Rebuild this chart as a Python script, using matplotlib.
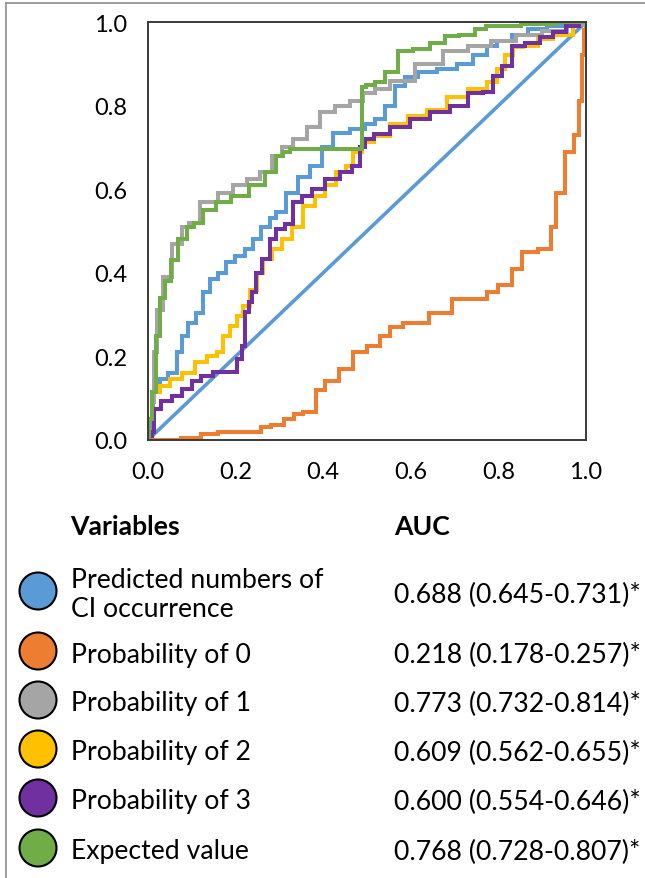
import matplotlib
matplotlib.use("Agg")
import matplotlib.pyplot as plt
from matplotlib.patches import Circle
from matplotlib.lines import Line2D

plt.rcParams['font.family'] = ['Lato', 'DejaVu Sans']

# ROC curves (false positive rate, true positive rate)
pred_fpr = [0, 0.005, 0.02, 0.035, 0.058, 0.073, 0.084, 0.10, 0.119, 0.134, 0.15, 0.17, 0.187, 0.21, 0.233,
            0.248, 0.27, 0.285, 0.30, 0.33, 0.355, 0.386, 0.409, 0.438, 0.484, 0.507, 0.53, 0.553, 0.575,
            0.598, 0.637, 0.683, 0.728, 0.758, 0.788, 0.804, 0.856, 0.88, 0.94, 1.0]
pred_tpr = [0, 0.02, 0.115, 0.146, 0.16, 0.21, 0.25, 0.28, 0.305, 0.354, 0.385, 0.40, 0.426, 0.44, 0.457,
            0.48, 0.51, 0.53, 0.545, 0.59, 0.63, 0.655, 0.70, 0.735, 0.744, 0.756, 0.768, 0.80, 0.847,
            0.868, 0.88, 0.887, 0.90, 0.92, 0.943, 0.955, 0.97, 0.983, 0.99, 1.0]

p0_fpr = [0, 0.05, 0.1, 0.14, 0.18, 0.255, 0.26, 0.30, 0.32, 0.347, 0.363, 0.377, 0.39, 0.42, 0.454, 0.484,
          0.514, 0.545, 0.56, 0.605, 0.68, 0.71, 0.77, 0.78, 0.82, 0.84, 0.87, 0.913, 0.925, 0.94, 0.963,
          0.98, 0.99, 0.993, 0.998, 1.0]
p0_tpr = [0, 0.0, 0.005, 0.014, 0.02, 0.02, 0.03, 0.035, 0.05, 0.062, 0.067, 0.067, 0.12, 0.14, 0.17, 0.21,
          0.225, 0.25, 0.27, 0.28, 0.305, 0.337, 0.337, 0.354, 0.37, 0.41, 0.45, 0.457, 0.51, 0.59, 0.69,
          0.73, 0.81, 0.92, 0.98, 1.0]

p1_fpr = [0, 0.005, 0.011, 0.015, 0.027, 0.043, 0.066, 0.089, 0.096, 0.14, 0.18, 0.21, 0.24, 0.27, 0.295,
          0.317, 0.347, 0.377, 0.409, 0.445, 0.477, 0.507, 0.53, 0.575, 0.644, 0.705, 0.758, 0.81, 0.872,
          0.925, 0.986, 1.0]
p1_tpr = [0, 0.05, 0.09, 0.21, 0.31, 0.39, 0.47, 0.51, 0.52, 0.57, 0.59, 0.61, 0.624, 0.64, 0.68,
          0.70, 0.72, 0.75, 0.785, 0.80, 0.81, 0.83, 0.84, 0.86, 0.90, 0.93, 0.943, 0.955, 0.97,
          0.978, 0.995, 1.0]

p2_fpr = [0, 0.005, 0.011, 0.043, 0.058, 0.096, 0.12, 0.149, 0.164, 0.18, 0.195, 0.21, 0.226, 0.24, 0.256,
          0.27, 0.295, 0.317, 0.34, 0.37, 0.393, 0.415, 0.445, 0.46, 0.477, 0.50, 0.53, 0.575, 0.614, 0.66,
          0.705, 0.758, 0.788, 0.804, 0.826, 0.842, 0.872, 0.91, 0.94, 1.0]
p2_tpr = [0, 0.05, 0.115, 0.13, 0.146, 0.16, 0.186, 0.20, 0.21, 0.25, 0.273, 0.297, 0.32, 0.36, 0.40,
          0.433, 0.457, 0.48, 0.51, 0.56, 0.584, 0.61, 0.64, 0.655, 0.69, 0.713, 0.727, 0.756, 0.776, 0.79,
          0.82, 0.84, 0.856, 0.887, 0.92, 0.94, 0.943, 0.96, 0.97, 1.0]

p3_fpr = [0, 0.005, 0.011, 0.015, 0.043, 0.066, 0.089, 0.11, 0.134, 0.164, 0.195, 0.21, 0.217, 0.226, 0.233,
          0.24, 0.251, 0.27, 0.285, 0.30, 0.324, 0.34, 0.363, 0.386, 0.423, 0.454, 0.477, 0.489, 0.50, 0.53,
          0.575, 0.62, 0.667, 0.712, 0.75, 0.78, 0.797, 0.82, 0.842, 0.88, 0.91, 0.94, 0.97, 1.0]
p3_tpr = [0, 0.01, 0.02, 0.074, 0.093, 0.105, 0.122, 0.14, 0.153, 0.163, 0.163, 0.194, 0.225, 0.306, 0.33,
          0.354, 0.40, 0.433, 0.48, 0.505, 0.517, 0.57, 0.584, 0.60, 0.624, 0.64, 0.655, 0.70, 0.72, 0.732,
          0.749, 0.768, 0.785, 0.80, 0.83, 0.832, 0.87, 0.895, 0.943, 0.95, 0.963, 0.976, 0.99, 1.0]

ev_fpr = [0, 0.005, 0.011, 0.024, 0.031, 0.047, 0.058, 0.08, 0.10, 0.11, 0.14, 0.17, 0.21, 0.25, 0.285,
          0.30, 0.317, 0.33, 0.489, 0.49, 0.507, 0.53, 0.553, 0.59, 0.62, 0.667, 0.69, 0.728, 0.765, 0.78,
          0.925, 0.94, 1.0]
ev_tpr = [0, 0.05, 0.115, 0.25, 0.34, 0.38, 0.43, 0.48, 0.51, 0.52, 0.55, 0.57, 0.584, 0.61, 0.64,
          0.68, 0.69, 0.696, 0.696, 0.845, 0.85, 0.856, 0.88, 0.93, 0.935, 0.95, 0.967, 0.97, 0.983, 0.99,
          0.995, 1.0, 1.0]

ref_line = [0, 1]

variables = ["Predicted numbers of\nCI occurrence", "Probability of 0", "Probability of 1",
             "Probability of 2", "Probability of 3", "Expected value"]
auc_text = ["0.688 (0.645-0.731)*", "0.218 (0.178-0.257)*", "0.773 (0.732-0.814)*",
            "0.609 (0.562-0.655)*", "0.600 (0.554-0.646)*", "0.768 (0.728-0.807)*"]
colors = ["#5B9BD5", "#ED7D31", "#A5A5A5", "#FFC000", "#7030A0", "#70AD47"]
ticks = [0.0, 0.2, 0.4, 0.6, 0.8, 1.0]

W, H = 645, 879
fig = plt.figure(figsize=(W / 100, H / 100), dpi=100)

def fx(px):
    return px / W

def fy(py):
    return 1 - py / H

ax = fig.add_axes([fx(148), fy(441), fx(586) - fx(148), fy(23) - fy(441)])

ax.plot(ref_line, ref_line, color=colors[0], lw=2.6, solid_capstyle='butt')
curves = [(pred_fpr, pred_tpr), (p0_fpr, p0_tpr), (p1_fpr, p1_tpr),
          (p2_fpr, p2_tpr), (p3_fpr, p3_tpr), (ev_fpr, ev_tpr)]
for (x, y), c in zip(curves, colors):
    ax.plot(x, y, color=c, lw=2.9, drawstyle='steps-mid', solid_joinstyle='miter')

ax.set_xlim(0, 1)
ax.set_ylim(0, 1)
ax.set_xticks(ticks)
ax.set_yticks(ticks)
ax.set_xticklabels([f"{t:.1f}" for t in ticks])
ax.set_yticklabels([f"{t:.1f}" for t in ticks])
ax.tick_params(length=0, labelsize=17, pad=15, colors='black')
for s in ax.spines.values():
    s.set_color('#3a3a3a')
    s.set_linewidth(1.4)

# frame lines of the original figure
fig.add_artist(Line2D([fx(6), fx(6)], [0, fy(4)], color='#8c8c8c', lw=1.2))
fig.add_artist(Line2D([fx(6), 1], [fy(4), fy(4)], color='#8c8c8c', lw=1.2))

# table-style legend
fig.text(fx(70), fy(527), "Variables", fontsize=19.2, fontweight='bold', va='center', ha='left')
fig.text(fx(394), fy(527), "AUC", fontsize=19.2, fontweight='bold', va='center', ha='left')

row_y = [592, 652, 701, 750, 799, 849]
for i, (name, auc, c) in enumerate(zip(variables, auc_text, colors)):
    y = row_y[i]
    circ = Circle((38 / 100, (H - y) / 100), 0.185, transform=fig.dpi_scale_trans,
                  facecolor=c, edgecolor='black', lw=1.5)
    fig.add_artist(circ)
    fig.text(fx(71), fy(y + 3), name, fontsize=19.2, va='center', ha='left', linespacing=1.2)
    fig.text(fx(394), fy(y + 3), auc, fontsize=19.2, va='center', ha='left')

fig.savefig("out.png", dpi=100)
